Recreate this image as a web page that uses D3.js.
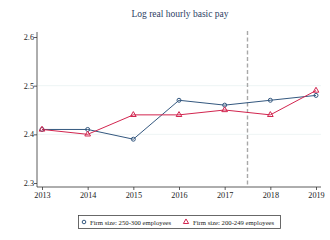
<!DOCTYPE html>
<html>
<head>
<meta charset="utf-8">
<script src="https://cdn.jsdelivr.net/npm/d3@7"></script>
<style>
  body { margin: 0; background: #fff; }
  text { font-family: "Liberation Serif", "Times New Roman", serif; }
</style>
</head>
<body>
<div id="chart"></div>
<script>
const years = [2013, 2014, 2015, 2016, 2017, 2018, 2019];
const large = [2.41, 2.41, 2.39, 2.47, 2.46, 2.47, 2.48];   // 250-300 employees
const small = [2.41, 2.40, 2.44, 2.44, 2.45, 2.44, 2.49];   // 200-249 employees
const yTicks = [2.3, 2.4, 2.5, 2.6];
const cutoff = 2017.5;
const labels = ["Firm size: 250-300 employees", "Firm size: 200-249 employees"];

const W = 330, H = 240;
const blue = "#34587f", red = "#d2254f";

const svg = d3.select("#chart").append("svg")
  .attr("width", W).attr("height", H);

const x = d3.scaleLinear().domain([2013, 2019]).range([42, 316]);
const y = d3.scaleLinear().domain([2.3, 2.6]).range([183, 37]);

// title
svg.append("text")
  .attr("x", 180).attr("y", 17)
  .attr("text-anchor", "middle")
  .attr("fill", "#2c3e63")
  .style("font-size", "9.5px")
  .text("Log real hourly basic pay");

// grid
svg.append("g").selectAll("line")
  .data([2.4, 2.5])
  .join("line")
  .attr("x1", 38).attr("x2", 321)
  .attr("y1", d => y(d)).attr("y2", d => y(d))
  .attr("stroke", "#eaf1f1").attr("stroke-width", 0.8);

// axes
const yAxis = svg.append("g")
  .attr("transform", "translate(37,0)")
  .call(d3.axisLeft(y).tickValues(yTicks).tickSize(3).tickFormat(d3.format(".1f")));
yAxis.select(".domain").attr("d", `M0,${y(2.3) + 4}V${y(2.6) - 5}`);

const xAxis = svg.append("g")
  .attr("transform", `translate(0,${y(2.3) + 4})`)
  .call(d3.axisBottom(x).tickValues(years).tickSize(3).tickFormat(d3.format("d")));
xAxis.select(".domain").attr("d", "M37,0H321");

svg.selectAll(".tick text").style("font-size", "8.2px").attr("fill", "#222");
yAxis.selectAll(".tick text").attr("x", -3);
xAxis.selectAll(".tick text").attr("y", 5);
svg.selectAll(".domain, .tick line").attr("stroke", "#333").attr("stroke-width", 0.8);

// cutoff line
svg.append("line")
  .attr("x1", x(cutoff)).attr("x2", x(cutoff))
  .attr("y1", 31).attr("y2", y(2.3) + 4)
  .attr("stroke", "#a8a8a8").attr("stroke-width", 1.4)
  .attr("stroke-dasharray", "4,2.5");

const line = d3.line().x((d, i) => x(years[i])).y(d => y(d));

svg.append("path").datum(large)
  .attr("fill", "none").attr("stroke", blue).attr("stroke-width", 1).attr("d", line);
svg.append("path").datum(small)
  .attr("fill", "none").attr("stroke", red).attr("stroke-width", 1).attr("d", line);

svg.append("g").selectAll("circle")
  .data(large).join("circle")
  .attr("cx", (d, i) => x(years[i])).attr("cy", d => y(d))
  .attr("r", 2).attr("fill", "none").attr("stroke", blue).attr("stroke-width", 1);

const tri = d3.symbol().type(d3.symbolTriangle).size(14);
svg.append("g").selectAll("path")
  .data(small).join("path")
  .attr("transform", (d, i) => `translate(${x(years[i])},${y(d)})`)
  .attr("d", tri).attr("fill", "none").attr("stroke", red).attr("stroke-width", 1);

// legend
const lg = svg.append("g");
lg.append("rect")
  .attr("x", 78.5).attr("y", 215.5).attr("width", 202).attr("height", 13)
  .attr("fill", "#fff").attr("stroke", "#444").attr("stroke-width", 0.8);
lg.append("circle").attr("cx", 84).attr("cy", 222)
  .attr("r", 1.8).attr("fill", "none").attr("stroke", blue).attr("stroke-width", 1);
lg.append("path").attr("transform", "translate(186,222)")
  .attr("d", d3.symbol().type(d3.symbolTriangle).size(12))
  .attr("fill", "none").attr("stroke", red).attr("stroke-width", 1);
lg.selectAll("text.lab")
  .data(labels).join("text")
  .attr("class", "lab")
  .attr("x", (d, i) => i === 0 ? 90 : 193)
  .attr("y", 224.5)
  .attr("fill", "#222")
  .style("font-size", "6.7px")
  .text(d => d);
</script>
</body>
</html>
